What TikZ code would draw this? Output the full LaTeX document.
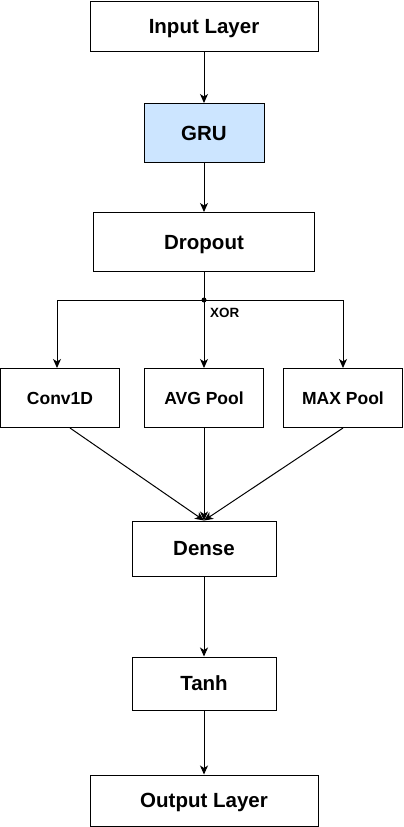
\documentclass[tikz,border=0pt]{standalone}
\usepackage{fontspec}
\setmainfont{Liberation Sans}
\usetikzlibrary{arrows.meta,positioning,calc}
\definecolor{grublue}{HTML}{CCE5FF}

\begin{document}
\begin{tikzpicture}[x=1pt,y=-1pt,
  layer/.style={draw, line width=1pt, font=\fontsize{20.5}{24}\selectfont\bfseries,
    text height=14.7pt, text depth=0pt,
    minimum width=144pt, minimum height=56pt, inner sep=0pt},
  pool/.style={layer, font=\fontsize{17.5}{21}\selectfont\bfseries, text height=12.6pt,
    minimum width=119pt, minimum height=59pt},
  flow/.style={line width=1pt, -{Stealth[length=9pt,width=8pt,inset=2.5pt]}}]
\useasboundingbox (0,0) rectangle (404,827);
% main stack
\node[layer, minimum width=228pt, minimum height=50pt] (input) at (204,26) {Input Layer};
\node[layer, fill=grublue, minimum width=120pt, minimum height=59pt] (gru) at (204,133) {GRU};
\node[layer, minimum width=221pt, minimum height=59pt] (dropout) at (204,242) {Dropout};
\node[pool] (conv) at (60,398) {Conv1D};
\node[pool] (avg) at (204,398) {AVG Pool};
\node[pool] (maxp) at (343,398) {MAX Pool};
\node[layer, minimum height=55pt] (dense) at (204,548.5) {Dense};
\node[layer, minimum height=53pt] (tanh) at (204,683.5) {Tanh};
\node[layer, minimum width=228pt, minimum height=51pt] (output) at (204,800.5) {Output Layer};
% branch point
\coordinate (split) at (204,300);
\fill (split) circle (2.5pt);
\node[font=\fontsize{13.4}{16}\selectfont\bfseries, anchor=west, inner sep=0pt] (xor) at (210,313) {XOR};
% connectors
\draw[flow] (input) -- (gru);
\draw[flow] (gru) -- (dropout);
\draw[line width=1pt] (dropout) -- (split);
\draw[flow] (split) -| ([xshift=-3pt]conv.north);
\draw[flow] (split) -- (avg);
\draw[flow] (split) -| (maxp.north);
\draw[flow] ([xshift=10pt]conv.south) -- (dense.north);
\draw[flow] (avg) -- (dense);
\draw[flow] (maxp.south) -- (dense.north);
\draw[flow] (dense) -- (tanh);
\draw[flow] (tanh) -- (output);
\end{tikzpicture}
\end{document}
